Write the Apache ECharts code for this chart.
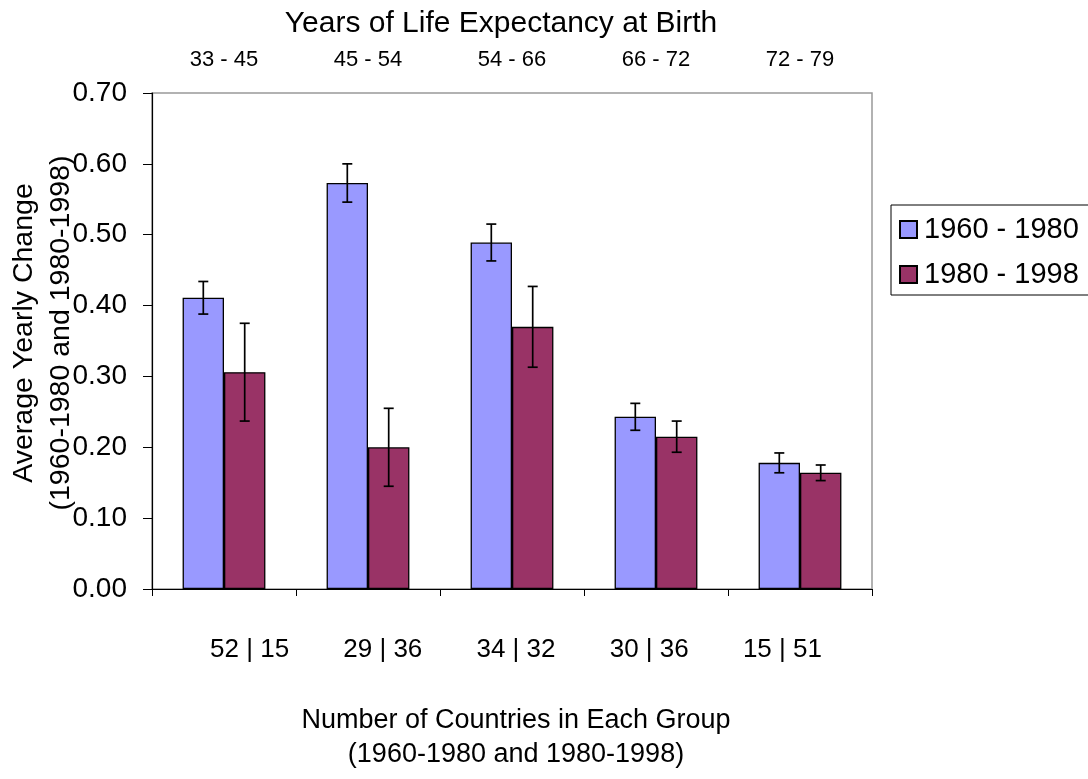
<!DOCTYPE html>
<html>
<head>
<meta charset="utf-8">
<script src="https://cdn.jsdelivr.net/npm/echarts@6/dist/echarts.min.js"></script>
<style>html,body{margin:0;padding:0;background:#fff;}#c{width:1088px;height:779px;}</style>
</head>
<body>
<div id="c"></div>
<script>
const categories = ['33 - 45', '45 - 54', '54 - 66', '66 - 72', '72 - 79'];
const groupCounts = ['52 | 15', '29 | 36', '34 | 32', '30 | 36', '15 | 51'];
const seriesNames = ['1960 - 1980', '1980 - 1998'];
const values1960 = [0.411, 0.573, 0.489, 0.243, 0.178];
const values1980 = [0.306, 0.200, 0.370, 0.215, 0.164];
const err1960 = [0.023, 0.027, 0.026, 0.019, 0.014];
const err1980 = [0.069, 0.055, 0.057, 0.022, 0.011];
const yMin = 0, yMax = 0.7, yStep = 0.1;

const FONT = "'Liberation Sans', Arial, sans-serif";
const GAP = 0.425;

function errSeries(vals, errs, side) {
  return {
    type: 'custom',
    xAxisIndex: 0, yAxisIndex: 0,
    z: 10,
    silent: true,
    encode: { x: 0, y: 1 },
    data: vals.map((v, i) => [i, v, errs[i]]),
    renderItem: function (params, api) {
      const i = api.value(0), v = api.value(1), e = api.value(2);
      const c = api.coord([i, v]);
      const band = api.size([1, 0])[0];
      const bw = band * (1 - GAP) / 2;
      const x = c[0] + side * bw / 2;
      const hi = api.coord([i, v + e])[1];
      const lo = api.coord([i, v - e])[1];
      const cap = 5;
      const st = { stroke: '#000', lineWidth: 1.7 };
      return {
        type: 'group',
        children: [
          { type: 'line', shape: { x1: x, y1: hi, x2: x, y2: lo }, style: st },
          { type: 'line', shape: { x1: x - cap, y1: hi, x2: x + cap, y2: hi }, style: st },
          { type: 'line', shape: { x1: x - cap, y1: lo, x2: x + cap, y2: lo }, style: st }
        ]
      };
    }
  };
}

const chart = echarts.init(document.getElementById('c'), null, { renderer: 'canvas' });
chart.setOption({
  backgroundColor: '#fff',
  animation: false,
  textStyle: { fontFamily: FONT, color: '#000' },
  title: {
    text: 'Years of Life Expectancy at Birth',
    left: 496, top: 4, textAlign: 'center',
    textStyle: { fontFamily: FONT, fontSize: 30, fontWeight: 'normal', color: '#000' }
  },
  legend: {
    orient: 'vertical',
    left: 891, top: 205,
    padding: [10, 40, 6, 8],
    itemWidth: 17, itemHeight: 17, itemGap: 16,
    icon: 'rect',
    borderColor: '#000', borderWidth: 1,
    data: seriesNames,
    textStyle: { fontFamily: FONT, fontSize: 29, color: '#000', padding: [0, 0, 0, 2] }
  },
  grid: [
    { left: 152, right: 216, top: 93, bottom: 190, show: true, borderColor: '#999', borderWidth: 1.5, backgroundColor: 'transparent' },
    { left: 183, width: 666, top: 93, bottom: 190, show: false }
  ],
  xAxis: [
    {
      type: 'category', gridIndex: 0, position: 'bottom', data: categories,
      axisLine: { show: true, lineStyle: { color: '#000', width: 1.2 } },
      axisTick: { show: true, length: 7, alignWithLabel: false, lineStyle: { color: '#000' } },
      axisLabel: { show: false }
    },
    {
      type: 'category', gridIndex: 0, position: 'top', data: categories,
      axisLine: { show: false }, axisTick: { show: false },
      axisLabel: { show: true, margin: 22, fontFamily: FONT, fontSize: 22, color: '#000' }
    },
    {
      type: 'category', gridIndex: 1, position: 'bottom', data: groupCounts,
      axisLine: { show: false }, axisTick: { show: false },
      axisLabel: { show: true, margin: 48, fontFamily: FONT, fontSize: 26, color: '#000' },
      name: 'Number of Countries in Each Group\n(1960-1980 and 1980-1998)',
      nameLocation: 'middle', nameGap: 115,
      nameTextStyle: { fontFamily: FONT, fontSize: 27, color: '#000', lineHeight: 34, align: 'center' }
    }
  ],
  yAxis: [
    {
      type: 'value', gridIndex: 0, min: yMin, max: yMax, interval: yStep,
      axisLine: { show: true, lineStyle: { color: '#000', width: 1.2 } },
      axisTick: { show: true, length: 9, lineStyle: { color: '#000' } },
      splitLine: { show: false },
      axisLabel: { margin: 25, fontFamily: FONT, fontSize: 28, color: '#000', formatter: v => v.toFixed(2) }
    },
    { type: 'value', gridIndex: 1, show: false, min: yMin, max: yMax }
  ],
  graphic: [
    {
      type: 'text', x: 24, y: 333, rotation: Math.PI / 2,
      style: { text: 'Average Yearly Change', fontFamily: FONT, fontSize: 28.5, fill: '#000', textAlign: 'center', textVerticalAlign: 'middle' }
    },
    {
      type: 'text', x: 61, y: 333, rotation: Math.PI / 2,
      style: { text: '(1960-1980 and 1980-1998)', fontFamily: FONT, fontSize: 28.5, fill: '#000', textAlign: 'center', textVerticalAlign: 'middle' }
    }
  ],
  series: [
    {
      name: seriesNames[0], type: 'bar', xAxisIndex: 0, yAxisIndex: 0,
      data: values1960, barGap: '0%', barCategoryGap: (GAP * 100) + '%',
      itemStyle: { color: '#9999FF', borderColor: '#000', borderWidth: 1.3 }
    },
    {
      name: seriesNames[1], type: 'bar', xAxisIndex: 0, yAxisIndex: 0,
      data: values1980, barGap: '0%', barCategoryGap: (GAP * 100) + '%',
      itemStyle: { color: '#993366', borderColor: '#000', borderWidth: 1.3 }
    },
    errSeries(values1960, err1960, -1),
    errSeries(values1980, err1980, 1)
  ]
});
</script>
</body>
</html>
